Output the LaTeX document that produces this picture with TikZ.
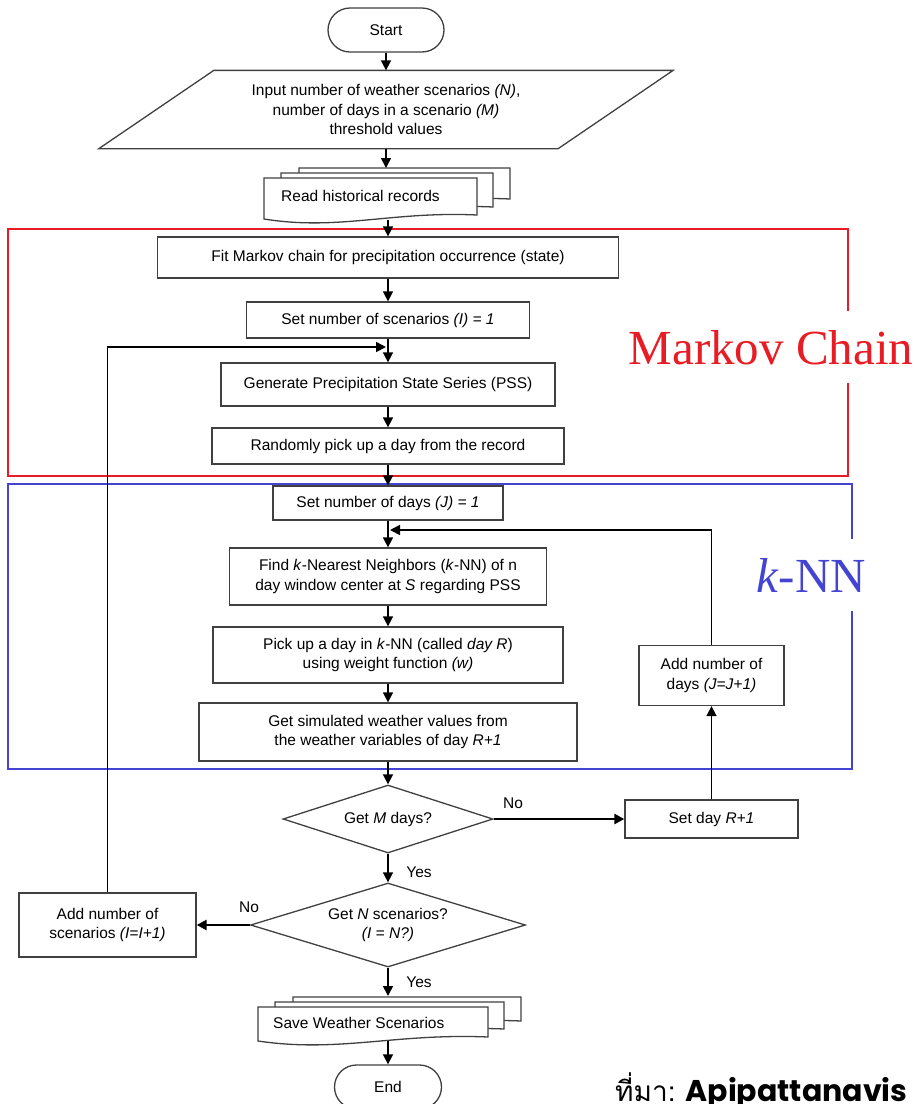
\documentclass[tikz,border=0pt]{standalone}
\usepackage{fontspec}
\setmainfont{Liberation Sans}
\newfontfamily\titlefont{Liberation Serif}
\newfontfamily\thaifont[Script=Thai]{Loma}
\newfontfamily\notefont{Poppins}
\usetikzlibrary{arrows.meta,shapes.geometric}

\definecolor{mkred}{RGB}{232,28,36}
\definecolor{knnblue}{RGB}{68,68,210}

\tikzset{
  edgeline/.style={draw=black!75,line width=1.3pt},
  box/.style={edgeline,fill=white,inner sep=0pt,align=center,font=\fontsize{15.5}{19.5}\selectfont},
  proc/.style={box,rectangle},
  term/.style={box,rectangle,rounded corners=22pt},
  decision/.style={box,diamond},
  arr/.style={-{Triangle[length=10pt,width=10pt]},line width=1.6pt},
  bigarr/.style={arr,line width=2.6pt},
  lbl/.style={font=\fontsize{15.5}{18}\selectfont,inner sep=0pt},
  zonebox/.style={line width=1.4pt},
  zonelabel/.style={font=\titlefont\fontsize{49}{55}\selectfont,fill=white,inner sep=7pt,text height=46pt,text depth=12pt}
}

% one sheet of a document stack: left, top, right, bottom
\newcommand{\docsheet}[4]{%
  \draw[edgeline,fill=white] ({#1},{#4}) -- ({#1},{#2}) -- ({#3},{#2}) -- ({#3},{#4-4})
    .. controls ({#3-0.4*(#3-(#1))},{#4-8}) and ({#1+0.35*(#3-(#1))},{#4+12}) .. ({#1},{#4}) -- cycle;}
\newcommand{\docstack}[4]{%
  \docsheet{#1+35}{#2-10}{#3+33}{#4-16}%
  \docsheet{#1+17}{#2-5}{#3+16}{#4-8}%
  \docsheet{#1}{#2}{#3}{#4}}

\begin{document}
\begin{tikzpicture}[x=1pt,y=-1pt]
  \useasboundingbox (0,0) rectangle (918,1104);
  \clip (0,0) rectangle (918,1104);

  % the two parts of the method
  \draw[zonebox,draw=mkred] (8,229) rectangle (848,476);
  \draw[zonebox,draw=knnblue] (8,484) rectangle (852,769);
  \node[zonelabel,text=mkred,anchor=base] (markov) at (771,364) {Markov Chain};
  \node[zonelabel,text=knnblue,anchor=base] (knnlabel) at (811,592) {\textit{k}-NN};

  \node[term,minimum width=116,minimum height=44] (start) at (386,30) {Start};

  \node[box,draw=none,fill=none,minimum width=458,minimum height=77] (input) at (386,109.5)
    {Input number of weather scenarios \textit{(N)},\\number of days in a scenario \textit{(M)}\\threshold values};
  \draw[edgeline] ([xshift=57.5pt]input.north west) -- ([xshift=57.5pt]input.north east)
    -- ([xshift=-57.5pt]input.south east) -- ([xshift=-57.5pt]input.south west) -- cycle;

  \docstack{264}{178}{477}{219}
  \node[lbl,anchor=west] (read) at (281,196) {Read historical records};
  \coordinate (readtop) at (386,168);
  \coordinate (readbot) at (388,220);

  \node[proc,minimum width=461,minimum height=41] (fit) at (388,257.5) {Fit Markov chain for precipitation occurrence (state)};
  \node[proc,minimum width=283,minimum height=36] (scen) at (388,320) {Set number of scenarios \textit{(I) = 1}};
  \node[proc,minimum width=334,minimum height=43] (gen) at (388,384.5) {Generate Precipitation State Series (PSS)};
  \node[proc,minimum width=352,minimum height=36] (rand) at (388,446) {Randomly pick up a day from the record};
  \node[proc,minimum width=230,minimum height=34] (days) at (388,503) {Set number of days \textit{(J) = 1}};
  \node[proc,minimum width=317,minimum height=57] (knn) at (388,576.5)
    {Find \textit{k}-Nearest Neighbors (\textit{k}-NN) of n\\day window center at \textit{S} regarding PSS};
  \node[proc,minimum width=350,minimum height=56] (pick) at (388,655)
    {Pick up a day in \textit{k}-NN (called \textit{day R})\\using weight function \textit{(w)}};
  \node[proc,minimum width=378,minimum height=58] (sim) at (388,732)
    {Get simulated weather values from\\the weather variables of day \textit{R+1}};

  \node[decision,shape aspect=3.1,minimum width=210,minimum height=68] (mdays) at (388,819) {Get \textit{M} days?};
  \node[proc,minimum width=173,minimum height=38] (setr) at (711.5,819) {Set day \textit{R+1}};
  \node[proc,minimum width=145,minimum height=60] (addd) at (711.5,675.5) {Add number of\\days \textit{(J=J+1)}};

  \node[decision,shape aspect=3.3,minimum width=275,minimum height=84] (nscen) at (388,925)
    {Get \textit{N} scenarios?\\\textit{(I = N?)}};
  \node[proc,minimum width=177,minimum height=64] (adds) at (107.5,925) {Add number of\\scenarios \textit{(I=I+1)}};

  \docstack{258}{1007}{488}{1041}
  \node[lbl,anchor=west] (save) at (273,1023) {Save Weather Scenarios};
  \coordinate (savetop) at (388,996);
  \coordinate (savebot) at (388,1041);

  \node[term,minimum width=107,minimum height=44] (end) at (388,1087) {End};

  \node[lbl] (no1) at (513,803) {No};
  \node[lbl] (yes1) at (419,872) {Yes};
  \node[lbl] (no2) at (249,907) {No};
  \node[lbl] (yes2) at (419,982) {Yes};

  \coordinate (loopI) at (386,347);
  \coordinate (loopJ) at (390,530);

  % flow
  \draw[arr] (start) -- (input);
  \draw[arr] (input) -- (readtop);
  \draw[arr] (readbot) -- (fit);
  \draw[arr] (fit) -- (scen);
  \draw[arr] (scen) -- (gen);
  \draw[arr] (gen) -- (rand);
  \draw[arr] (rand) -- (days);
  \draw[arr] (days) -- (knn);
  \draw[arr] (knn) -- (pick);
  \draw[arr] (pick) -- (sim);
  \draw[arr] (sim) -- (mdays);
  \draw[bigarr] (mdays) -- (setr);
  \draw[arr] (setr) -- (addd);
  \draw[arr] (addd.north) |- (loopJ);
  \draw[arr] (mdays) -- (nscen);
  \draw[bigarr] (nscen) -- (adds);
  \draw[arr] (adds.north) |- (loopI);
  \draw[arr] (nscen) -- (savetop);
  \draw[arr] (savebot) -- (end);

  \node[anchor=base west,inner sep=0pt] (source) at (615,1101)
    {\thaifont\fontsize{28}{30}\selectfont ที่มา:\hspace{10pt}\notefont\fontsize{30}{32}\selectfont\bfseries Apipattanavis};
\end{tikzpicture}
\end{document}
